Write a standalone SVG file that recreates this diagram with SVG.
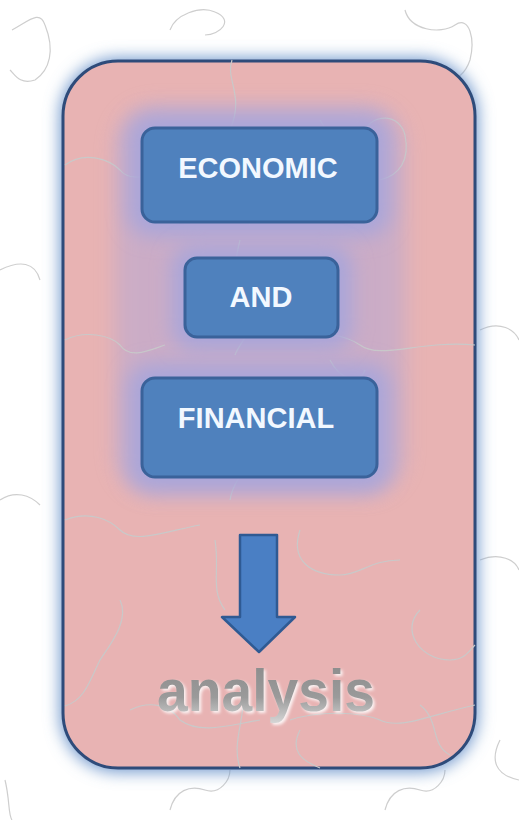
<svg xmlns="http://www.w3.org/2000/svg" width="519" height="820" viewBox="0 0 519 820">
<defs>
<filter id="glow" x="-20%" y="-20%" width="140%" height="140%"><feGaussianBlur stdDeviation="8"/></filter>
<filter id="halo" x="-30%" y="-30%" width="160%" height="160%"><feGaussianBlur stdDeviation="10"/></filter>
<filter id="emboss" x="-10%" y="-20%" width="120%" height="150%">
<feGaussianBlur in="SourceAlpha" stdDeviation="1.5" result="b"/>
<feOffset in="b" dx="2" dy="2" result="o"/>
<feFlood flood-color="#ffffff" flood-opacity="0.85"/>
<feComposite in2="o" operator="in" result="sh"/>
<feMerge><feMergeNode in="sh"/><feMergeNode in="SourceGraphic"/></feMerge>
</filter>
<linearGradient id="txt" x1="0" y1="0" x2="0" y2="1">
<stop offset="0" stop-color="#8a8a8a"/><stop offset="0.6" stop-color="#9a9a9a"/><stop offset="1" stop-color="#d8d8d8"/>
</linearGradient>
<style>
.box{fill:#4F81BD;stroke:#3A629A;stroke-width:3}
.lbl{font-family:"Liberation Sans",Arial,sans-serif;font-weight:bold;font-size:29px;fill:#F2F8FF;text-anchor:middle}
.pz{fill:none;stroke:#c9c9c9;stroke-width:1.2}
</style>
</defs>
<rect width="519" height="820" fill="#ffffff"/>
<g id="puzzle-outer" opacity="0.9">
<path class="pz" d="M12 30 C30 20 40 10 45 25 C55 50 50 70 35 80 C20 85 15 75 10 70"/>
<path class="pz" d="M170 30 C175 15 200 5 215 12 C235 20 220 35 205 35"/>
<path class="pz" d="M405 10 C410 30 440 35 455 25 C470 15 475 40 470 60 C465 75 455 80 450 80"/>
<path class="pz" d="M0 270 C20 260 35 262 40 280"/>
<path class="pz" d="M0 500 C15 490 30 495 40 505"/>
<path class="pz" d="M480 330 C500 320 515 330 519 340"/>
<path class="pz" d="M480 560 C500 552 515 560 519 570"/>
<path class="pz" d="M170 810 C175 790 190 785 205 790 C220 795 230 780 230 770"/>
<path class="pz" d="M385 810 C390 790 405 785 420 790 C435 795 445 780 445 770"/>
<path class="pz" d="M5 780 C10 800 8 815 12 820"/>
<path class="pz" d="M500 740 C490 760 495 775 519 780"/>
</g>
<rect x="60" y="58" width="418" height="714" rx="58" fill="#6F97CC" filter="url(#glow)"/>
<g id="panel">
<rect x="63" y="61" width="412" height="707" rx="55" fill="#E8B3B3" stroke="#2E4B7A" stroke-width="3"/>
</g>
<rect x="115" y="105" width="290" height="390" rx="40" fill="#B4A8D6" opacity="0.55" filter="url(#halo)"/>
<g id="puzzle-inner">
<path class="pz" d="M232 60 C225 80 245 95 230 130 C220 160 235 200 250 225"/>
<path class="pz" d="M65 165 C85 150 110 160 120 170 C135 190 180 160 200 170"/>
<path class="pz" d="M320 120 C330 140 355 150 360 135 C375 110 400 115 405 135 C410 160 400 175 380 180"/>
<path class="pz" d="M240 240 C235 260 230 280 250 300 C265 320 240 340 235 355"/>
<path class="pz" d="M65 340 C85 330 110 335 120 345 C130 360 150 350 165 345"/>
<path class="pz" d="M300 340 C320 330 345 335 360 345 C380 360 420 340 475 345"/>
<path class="pz" d="M225 390 C235 420 270 410 265 440 C262 460 235 470 230 500"/>
<path class="pz" d="M330 360 C340 380 360 385 365 370"/>
<path class="pz" d="M65 520 C90 510 110 520 120 530 C135 545 170 530 200 525"/>
<path class="pz" d="M300 530 C290 560 310 575 340 575 C360 575 370 560 400 560"/>
<path class="pz" d="M215 540 C220 570 210 590 225 610"/>
<path class="pz" d="M120 600 C130 620 110 645 100 660 C90 680 85 700 65 706"/>
<path class="pz" d="M420 610 C400 630 420 660 450 660 C465 660 470 650 475 645"/>
<path class="pz" d="M130 710 C150 700 170 705 180 720 C200 735 230 725 260 720"/>
<path class="pz" d="M290 720 C320 710 360 712 380 720 C400 730 430 715 475 705"/>
<path class="pz" d="M240 690 C250 710 230 740 240 768"/>
<path class="pz" d="M300 730 C290 750 300 760 320 768"/>
<path class="pz" d="M420 705 C440 720 430 745 450 755"/>
</g>
<rect x="128" y="114" width="262" height="122" rx="24" fill="#A9A6DA" filter="url(#halo)"/>
<rect x="172" y="245" width="180" height="105" rx="22" fill="#A9A6DA" filter="url(#halo)"/>
<rect x="128" y="364" width="262" height="127" rx="24" fill="#A9A6DA" filter="url(#halo)"/>
<g id="node-economic">
<rect class="box" x="142" y="128" width="235" height="94" rx="13"/>
<text class="lbl" x="258" y="178">ECONOMIC</text>
</g>
<g id="node-and">
<rect class="box" x="185" y="258" width="153" height="79" rx="12"/>
<text class="lbl" x="261" y="307">AND</text>
</g>
<g id="node-financial">
<rect class="box" x="142" y="378" width="235" height="99" rx="13"/>
<text class="lbl" x="256" y="428">FINANCIAL</text>
</g>
<g id="connectors">
<path d="M240 535 L277 535 L277 617 L295 617 L259 652 L222 617 L240 617 Z" fill="#4A7FC4" stroke="#2F5A93" stroke-width="2.5" stroke-linejoin="round"/>
</g>
<g id="node-analysis">
<text x="266" y="711" font-family="'Liberation Sans',Arial,sans-serif" font-weight="bold" font-size="60" textLength="218" lengthAdjust="spacingAndGlyphs" text-anchor="middle" fill="url(#txt)" filter="url(#emboss)">analysis</text>
</g>
</svg>
